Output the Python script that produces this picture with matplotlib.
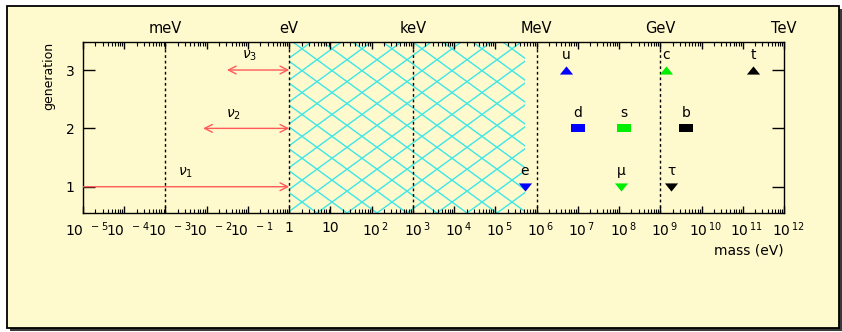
import numpy as np
import matplotlib
matplotlib.use('Agg')
import matplotlib.pyplot as plt
from matplotlib.path import Path
from matplotlib.patches import Rectangle, FancyArrowPatch
from matplotlib.collections import LineCollection
from matplotlib.ticker import LogLocator, FixedLocator, NullLocator
import matplotlib.transforms as mtransforms

# ---------------- data ----------------
particle_names = ['u', 'c', 't', 'd', 's', 'b', 'e', 'μ', 'τ']
particle_mass_eV = [5.3e6, 1.35e9, 1.8e11, 1.0e7, 1.3e8, 4.3e9, 5.11e5, 1.1e8, 1.85e9]
particle_row = [3, 3, 3, 2, 2, 2, 1, 1, 1]
particle_color = ['blue', '#00ee00', 'black', 'blue', '#00ee00', 'black', 'blue', '#00ee00', 'black']
particle_kind = ['up', 'up', 'up', 'sq', 'sq', 'sq', 'down', 'down', 'down']

nu_names = [r'$\nu_1$', r'$\nu_2$', r'$\nu_3$']
nu_row = [1, 2, 3]
nu_low_eV = [1e-5, 0.0082, 0.031]
nu_high_eV = [1.0, 1.0, 1.0]
nu_double_headed = [False, True, True]
nu_label_x = [0.0031, 0.044, 0.107]

excluded_region_eV = [1.0, 5.11e5]

unit_names = ['meV', 'eV', 'keV', 'MeV', 'GeV', 'TeV']
unit_values = [1e-3, 1.0, 1e3, 1e6, 1e9, 1e12]

x_exponents = list(range(-5, 13))
y_ticks = [1, 2, 3]

# ---------------- layout ----------------
W, H = 842, 332
fig = plt.figure(figsize=(W / 100, H / 100), dpi=100)
fig.patch.set_facecolor('white')


def fr(x0, y0, x1, y1):
    return (x0 / W, 1 - y1 / H), (x1 - x0) / W, (y1 - y0) / H


shadow = Rectangle(*fr(10, 9, 842, 331), transform=fig.transFigure,
                   facecolor='#3a3a3a', edgecolor='none', zorder=-3)
frame = Rectangle(*fr(7, 6, 839, 328), transform=fig.transFigure,
                  facecolor='#fffacd', edgecolor='black', lw=1.3, zorder=-2)
fig.patches.extend([shadow, frame])

ax_l, ax_t, ax_w, ax_h = 83, 42, 701, 171
ax = fig.add_axes([ax_l / W, 1 - (ax_t + ax_h) / H, ax_w / W, ax_h / H])
ax.set_facecolor('none')
ax.set_xscale('log')
ax.set_xlim(1e-5, 1e12)
ax.set_ylim(0.55, 3.48)

# excluded region hatch (cyan crosshatch)
span = ax.axvspan(excluded_region_eV[0], excluded_region_eV[1],
                  facecolor='none', edgecolor='none')
P = 30.0       # horizontal period in px
m = 0.73       # slope
phase = 234.0
segs = []
x0s = np.arange(phase - 40 * P, ax_w + 40 * P, P)
for x0 in x0s:
    segs.append([(x0 / ax_w, 0), ((x0 + ax_h / m) / ax_w, 1)])
    segs.append([(x0 / ax_w, 0), ((x0 - ax_h / m) / ax_w, 1)])
lc = LineCollection(segs, colors='#3de6e6', linewidths=1.0,
                    transform=ax.transAxes, zorder=1)
ax.add_collection(lc)
lc.set_clip_path(span)

# dotted unit lines
for v in unit_values[:-1]:
    ax.axvline(v, color='black', lw=1.0, ls=(0, (2, 2)), zorder=2)

# neutrino arrows
for lo, hi, row, dbl, name, lx in zip(nu_low_eV, nu_high_eV, nu_row,
                                      nu_double_headed, nu_names, nu_label_x):
    style = '<->' if dbl else '->'
    arr = FancyArrowPatch((lo, row), (hi, row),
                          arrowstyle=style + ',head_length=0.55,head_width=0.28',
                          mutation_scale=10, color='#ff5a5a', lw=1.0,
                          shrinkA=0, shrinkB=0, zorder=3)
    ax.add_patch(arr)
    ax.annotate(name, (lx, row), xytext=(0, 10), textcoords='offset points',
                ha='center', va='center', fontsize=10)

# markers
up_tri = Path([(-0.5, -0.31), (0.5, -0.31), (0.0, 0.31), (-0.5, -0.31)],
              [Path.MOVETO, Path.LINETO, Path.LINETO, Path.CLOSEPOLY])
down_tri = Path([(-0.5, 0.31), (0.5, 0.31), (0.0, -0.31), (-0.5, 0.31)],
                [Path.MOVETO, Path.LINETO, Path.LINETO, Path.CLOSEPOLY])
rect = Path([(-0.5, -0.32), (0.5, -0.32), (0.5, 0.32), (-0.5, 0.32), (-0.5, -0.32)],
            [Path.MOVETO, Path.LINETO, Path.LINETO, Path.LINETO, Path.CLOSEPOLY])
marker_of = {'up': (up_tri, 9.5), 'down': (down_tri, 9.5), 'sq': (rect, 10.0)}

for name, mass, row, col, kind in zip(particle_names, particle_mass_eV, particle_row,
                                      particle_color, particle_kind):
    mk, ms = marker_of[kind]
    ax.plot([mass], [row], marker=mk, markersize=ms, color=col,
            markeredgewidth=0, linestyle='none', zorder=4)
    ax.annotate(name, (mass, row), xytext=(0, 11), textcoords='offset points',
                ha='center', va='center', fontsize=10)

# axes styling
for s in ax.spines.values():
    s.set_linewidth(1.0)

ax.xaxis.set_major_locator(FixedLocator([10.0 ** e for e in x_exponents]))
ax.xaxis.set_minor_locator(LogLocator(base=10, subs=np.arange(2, 10), numticks=200))


def xlab(e):
    if e == 0:
        return '1'
    if e == 1:
        return '10'
    if e < 0:
        return r'$10^{\ \ %d}$' % e
    return r'$10^{\,%d}$' % e


ax.set_xticklabels([xlab(e) for e in x_exponents], fontsize=10)
ax.tick_params(axis='x', which='major', direction='in', length=5, width=1,
               top=True, bottom=True, pad=5.5)
ax.tick_params(axis='x', which='minor', direction='in', length=3, width=0.8,
               top=True, bottom=True)
ax.set_yticks(y_ticks)
ax.set_yticklabels([str(v) for v in y_ticks], fontsize=10)
ax.tick_params(axis='y', which='major', direction='in', length=8.6, width=1,
               left=True, right=True, pad=6)
ax.yaxis.set_minor_locator(NullLocator())

off = mtransforms.ScaledTranslation(4 / 100, 0, fig.dpi_scale_trans)
for e, tk in zip(x_exponents, ax.xaxis.get_major_ticks()):
    if e not in (0, 1):
        tk.label1.set_transform(tk.label1.get_transform() + off)

sec = ax.secondary_xaxis('top')
sec.set_xticks(unit_values, unit_names)
sec.xaxis.set_minor_locator(NullLocator())
sec.tick_params(axis='x', length=0, pad=4, labelsize=10.5)
sec.spines['top'].set_visible(False)

ax.set_ylabel('generation', fontsize=9, loc='top')
ax.yaxis.set_label_coords((55 - ax_l) / ax_w, 1.0)
ax.set_xlabel('mass (eV)', fontsize=10, loc='right')
ax.xaxis.set_label_coords(1.0, -(243 - (ax_t + ax_h)) / ax_h)

fig.savefig('out.png', dpi=100)
